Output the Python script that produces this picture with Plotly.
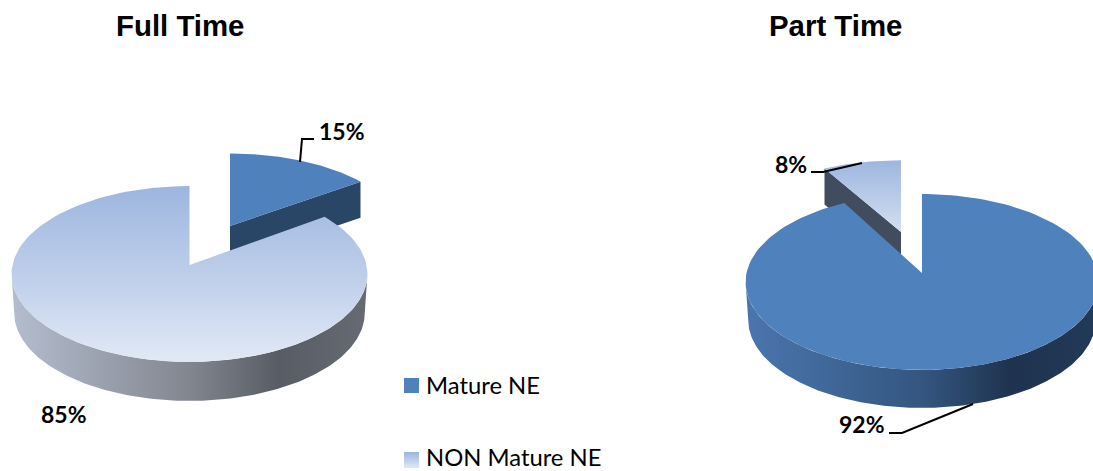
import numpy as np
import plotly.graph_objects as go

# Shares per attendance mode (percent), drawn clockwise from twelve o'clock
categories = ["Mature NE", "NON Mature NE"]
full_time_values = [15, 85]
part_time_values = [92, 8]
chart_titles = ["Full Time", "Part Time"]

BLUE = "#4F81BD"
# Plotly maps the vertical gradient upward on screen here, so the palest stop comes first
TOP_LIGHT = [[0, "#E2E9F6"], [0.5, "#BDCEE9"], [1, "#9DB6E0"]]
SLICE_LIGHT = [[0, "#D4DFF0"], [1, "#9DB6E0"]]
WALL_LIGHT = [[0, "#B4BDCF"], [0.5, "#82868F"], [0.75, "#585C64"], [1, "#666A72"]]
WALL_BLUE = [[0, "#4A76AE"], [0.5, "#345680"], [0.75, "#1F334F"], [1, "#223958"]]
PERSPECTIVE = 0.102
# Clockwise angle where the disc's outline is widest on screen
SILHOUETTE = np.degrees(np.arccos(-PERSPECTIVE))


def project(theta_deg, cx, cy, rx=177.0, ry=87.0):
    """Tilted-disc projection: theta is clockwise from the top of the pie."""
    t = np.radians(theta_deg)
    d = 1 + PERSPECTIVE * np.cos(t)
    return cx + rx * np.sin(t) / d, cy - ry * np.cos(t) / d


def sweep(values):
    edges = np.cumsum([0] + list(values)) * 3.6
    return list(zip(edges[:-1], edges[1:]))


def wedge(a0, a1, cx, cy, rx=177.0, ry=87.0):
    th = np.linspace(a0, a1, 160)
    x, y = project(th, cx, cy, rx, ry)
    return np.r_[cx, x, cx], np.r_[cy, y, cy]


def polygon(x, y, **fill):
    return go.Scatter(x=x, y=y, mode="lines", fill="toself", line=dict(width=0),
                      hoverinfo="skip", showlegend=False, **fill)


def vertical(scale):
    return dict(fillgradient=dict(type="vertical", colorscale=scale))


def outer_wall(cx, cy, depth, scale, rx=177.0):
    # Visible rim between the two silhouette points; the lower edge sits a touch narrower
    th = np.linspace(SILHOUETTE, 360 - SILHOUETTE, 200)
    x, y = project(th, cx, cy, rx)
    x_low = cx + (x - cx) * 0.985
    return polygon(np.r_[x, x_low[::-1], x[0]], np.r_[y, y[::-1] + depth, y[0]],
                   fillgradient=dict(type="horizontal", colorscale=scale))


def cut_face(theta, cx, cy, depth, color, rx, ry):
    x, y = project(theta, cx, cy, rx, ry)
    return polygon([cx, x, x, cx, cx], [cy, y, y + depth, cy + depth, cy], fillcolor=color)


fig = go.Figure()

# Full Time: pulled-out mature slice behind the main body
(m0, m1), (n0, n1) = sweep(full_time_values)
fig.add_trace(cut_face(m1, 230, 226, 36, "#2A4666", 171, 80))
sx, sy = wedge(m0, m1, 230, 226, 171, 80)
fig.add_trace(polygon(sx, sy, fillcolor=BLUE))
fig.add_trace(outer_wall(189.5, 265, 39, WALL_LIGHT))
sx, sy = wedge(n0, n1, 189.5, 265)
fig.add_trace(polygon(sx, sy, **vertical(TOP_LIGHT)))

# Part Time: pulled-out non-mature slice behind the main body
(m0, m1), (n0, n1) = sweep(part_time_values)
fig.add_trace(cut_face(n0, 901, 232, 36, "#414C5F", 173, 79))
sx, sy = wedge(n0, n1, 901, 232, 173, 79)
fig.add_trace(polygon(sx, sy, **vertical(SLICE_LIGHT)))
fig.add_trace(outer_wall(922, 273, 38, WALL_BLUE, 175.5))
sx, sy = wedge(m0, m1, 922, 273, 175.5)
fig.add_trace(polygon(sx, sy, fillcolor=BLUE))

# Legend swatches
fig.add_trace(polygon([404, 419, 419, 404, 404], [378, 378, 393, 393, 378], fillcolor=BLUE))
fig.add_trace(polygon([404, 419, 419, 404, 404], [452, 452, 468, 468, 452], **vertical(TOP_LIGHT)))

TITLE_FONT = dict(family="Liberation Sans", size=29.4, color="black", weight="bold")
LABEL_FONT = dict(family="Lato", size=23, color="black", weight="bold")
LEGEND_FONT = dict(family="Lato", size=23.8, color="black")


def note(text, x, y, font, anchor="center"):
    return dict(text=text, x=x, y=y, xref="x", yref="y", showarrow=False,
                xanchor=anchor, yanchor="middle", font=font, borderpad=0)


annotations = [
    note(chart_titles[0], 179.5, 25.5, TITLE_FONT),
    note(chart_titles[1], 835.5, 25.5, TITLE_FONT),
    note(f"{full_time_values[0]}%", 341.5, 131, LABEL_FONT),
    note(f"{full_time_values[1]}%", 64, 414, LABEL_FONT),
    note(f"{part_time_values[1]}%", 790.5, 164, LABEL_FONT),
    note(f"{part_time_values[0]}%", 861.5, 424, LABEL_FONT),
    note(categories[0], 425, 385, LEGEND_FONT, "left"),
    note(categories[1], 425, 457, LEGEND_FONT, "left"),
]

leader = dict(color="black", width=2)
shapes = [
    dict(type="path", path="M300,162 L302,139 L314,139", line=leader, layer="above"),
    dict(type="path", path="M811,172 L823,172 L862,163", line=leader, layer="above"),
    dict(type="path", path="M889,433 L902,433 L973,404", line=leader, layer="above"),
]

fig.update_layout(
    width=1093, height=471, margin=dict(l=0, r=0, t=0, b=0),
    paper_bgcolor="white", plot_bgcolor="white", showlegend=False,
    xaxis=dict(range=[0, 1093], visible=False, fixedrange=True),
    yaxis=dict(range=[471, 0], visible=False, fixedrange=True),
    annotations=annotations, shapes=shapes,
)

fig.write_html("out.html", config=dict(displayModeBar=False))
